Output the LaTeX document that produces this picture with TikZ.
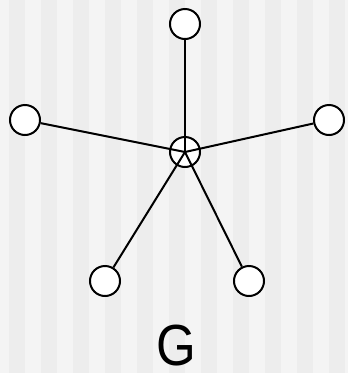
\documentclass[tikz,border=0pt]{standalone}
\usepackage{fontspec}
\setmainfont{Liberation Sans}
\definecolor{stripeA}{HTML}{F4F4F4}
\definecolor{stripeB}{HTML}{EDEDED}
\tikzset{
  vert/.style={circle,draw=black,fill=white,line width=2pt,minimum size=30pt,inner sep=0pt},
  edge/.style={line width=2pt,black},
}
\begin{document}
\begin{tikzpicture}[x=1pt,y=-1pt]
\useasboundingbox (0,0) rectangle (348,373);
\fill[stripeA] (0,0) rectangle (348,373);
\foreach \i in {0,...,10} {
  \fill[stripeB] ({9+32*\i},0) rectangle ({min(25+32*\i,348)},373);
}
\node[vert] (c) at (185,152) {};
\node[vert] (t) at (185,24) {};
\node[vert] (l) at (25,120) {};
\node[vert] (r) at (329,120) {};
\node[vert] (bl) at (105,281) {};
\node[vert] (br) at (249,281) {};
\foreach \n in {t,l,r,bl,br} {
  \draw[edge] (c.center) -- (\n);
}
\node[font=\fontsize{58}{60}\selectfont,inner sep=0pt,xscale=0.88,anchor=base] (g) at (176,365) {G};
\end{tikzpicture}
\end{document}
